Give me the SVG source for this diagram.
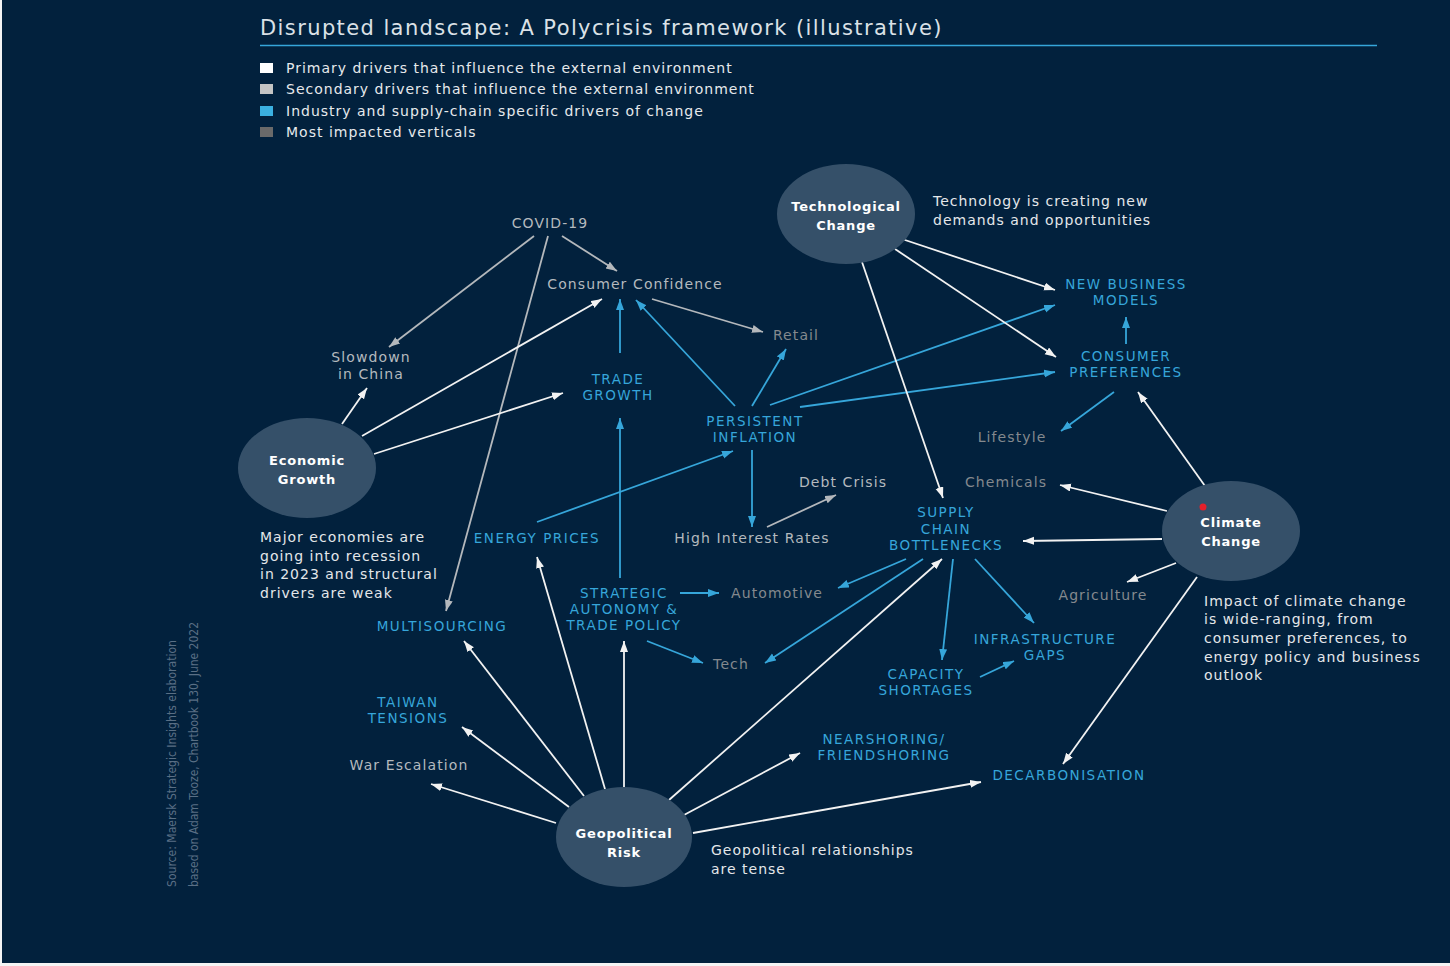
<svg xmlns="http://www.w3.org/2000/svg" width="1450" height="966" viewBox="0 0 1450 966">
<defs>
<style>
.t{font-family:"DejaVu Sans","Open Sans",sans-serif;}
.title{font-size:21px;letter-spacing:1.4px;fill:#dbe1e7;}
.leg{font-size:14px;letter-spacing:1px;fill:#e6e9ec;}
.node{font-size:13px;letter-spacing:0.8px;font-weight:bold;fill:#ffffff;text-anchor:middle;}
.blue{font-size:13.5px;letter-spacing:1.5px;fill:#36a6da;text-anchor:middle;}
.sec{font-size:14px;letter-spacing:1.1px;fill:#b4b9be;text-anchor:middle;}
.vert{font-size:14px;letter-spacing:1.1px;fill:#84898e;text-anchor:middle;}
.ann{font-size:14px;letter-spacing:1px;fill:#e4e7ea;}
.src{font-family:"Liberation Sans Narrow","DejaVu Sans Condensed",sans-serif;font-size:13px;fill:#5a6f85;}
.cw{stroke:#f2f2f2;stroke-width:1.8;fill:none;marker-end:url(#aw);}
.cg{stroke:#b4b8bc;stroke-width:1.8;fill:none;marker-end:url(#ag);}
.cb{stroke:#36a6da;stroke-width:1.8;fill:none;marker-end:url(#ab);}
.circ{fill:#355069;}
</style>
<marker id="aw" markerUnits="userSpaceOnUse" markerWidth="12" markerHeight="9" refX="11" refY="4" orient="auto"><path d="M0,0 L11,4 L0,8 z" fill="#f2f2f2"/></marker>
<marker id="ag" markerUnits="userSpaceOnUse" markerWidth="12" markerHeight="9" refX="11" refY="4" orient="auto"><path d="M0,0 L11,4 L0,8 z" fill="#b4b8bc"/></marker>
<marker id="ab" markerUnits="userSpaceOnUse" markerWidth="12" markerHeight="9" refX="11" refY="4" orient="auto"><path d="M0,0 L11,4 L0,8 z" fill="#36a6da"/></marker>
</defs>
<rect x="0" y="0" width="1450" height="966" fill="#f4f4f4"/>
<rect x="2" y="0" width="1448" height="963" fill="#02213d"/>

<g id="header">
<text class="t title" x="260" y="35">Disrupted landscape: A Polycrisis framework (illustrative)</text>
<line x1="260" y1="45.5" x2="1377" y2="45.5" stroke="#36a6da" stroke-width="1.5"/>
</g>
<g id="legend">
<rect x="260" y="63" width="13" height="10" fill="#ffffff"/>
<text class="t leg" x="286" y="73">Primary drivers that influence the external environment</text>
<rect x="260" y="84" width="13" height="10" fill="#c4c4c4"/>
<text class="t leg" x="286" y="94">Secondary drivers that influence the external environment</text>
<rect x="260" y="106" width="13" height="10" fill="#3bb0e0"/>
<text class="t leg" x="286" y="116">Industry and supply-chain specific drivers of change</text>
<rect x="260" y="127" width="13" height="10" fill="#6a6a6a"/>
<text class="t leg" x="286" y="137">Most impacted verticals</text>
</g>

<g id="connectors">
<!-- COVID -->
<line class="cg" x1="534" y1="236" x2="389" y2="347"/>
<line class="cg" x1="562" y1="236" x2="617" y2="271"/>
<line class="cg" x1="548" y1="236" x2="446" y2="611"/>
<!-- Economic growth -->
<line class="cw" x1="342" y1="424" x2="367" y2="388"/>
<line class="cw" x1="362" y1="436" x2="602" y2="299"/>
<line class="cw" x1="374" y1="454" x2="563" y2="393"/>
<!-- Trade growth / strategic -->
<line class="cb" x1="620" y1="353" x2="620" y2="299"/>
<line class="cb" x1="620" y1="578" x2="620" y2="418"/>
<!-- Persistent inflation -->
<line class="cb" x1="735" y1="406" x2="636" y2="300"/>
<line class="cg" x1="652" y1="299" x2="763" y2="332"/>
<line class="cb" x1="752" y1="406" x2="786" y2="349"/>
<line class="cb" x1="770" y1="405" x2="1055" y2="305"/>
<line class="cb" x1="800" y1="407" x2="1055" y2="372"/>
<line class="cb" x1="537" y1="522" x2="733" y2="451"/>
<line class="cb" x1="752" y1="450" x2="752" y2="527"/>
<line class="cg" x1="767" y1="527" x2="836" y2="495"/>
<!-- Technological change -->
<line class="cw" x1="893" y1="236" x2="1055" y2="290"/>
<line class="cw" x1="895" y1="249" x2="1056" y2="357"/>
<line class="cw" x1="862" y1="262" x2="943" y2="498"/>
<!-- Consumer preferences -->
<line class="cb" x1="1126" y1="344" x2="1126" y2="317"/>
<line class="cb" x1="1114" y1="392" x2="1061" y2="431"/>
<!-- Climate change -->
<line class="cw" x1="1205" y1="486" x2="1138" y2="392"/>
<line class="cw" x1="1167" y1="511" x2="1060" y2="485"/>
<line class="cw" x1="1162" y1="539" x2="1023" y2="541"/>
<line class="cw" x1="1176" y1="563" x2="1127" y2="582"/>
<line class="cw" x1="1197" y1="577" x2="1063" y2="764"/>
<!-- Strategic / supply chain -->
<line class="cb" x1="680" y1="593" x2="719" y2="593"/>
<line class="cb" x1="647" y1="641" x2="703" y2="663"/>
<line class="cb" x1="906" y1="559" x2="838" y2="588"/>
<line class="cb" x1="923" y1="559" x2="765" y2="663"/>
<line class="cb" x1="953" y1="559" x2="942" y2="660"/>
<line class="cb" x1="975" y1="559" x2="1034" y2="623"/>
<line class="cb" x1="980" y1="677" x2="1014" y2="661"/>
<!-- Geopolitical risk -->
<line class="cw" x1="556" y1="823" x2="431" y2="784"/>
<line class="cw" x1="569" y1="807" x2="462" y2="727"/>
<line class="cw" x1="584" y1="796" x2="464" y2="641"/>
<line class="cw" x1="605" y1="789" x2="537" y2="557"/>
<line class="cw" x1="624" y1="787" x2="624" y2="641"/>
<line class="cw" x1="669" y1="800" x2="942" y2="559"/>
<line class="cw" x1="684" y1="815" x2="800" y2="753"/>
<line class="cw" x1="693" y1="833" x2="981" y2="782"/>
</g>

<g id="tech-change">
<ellipse class="circ" cx="846" cy="214" rx="69" ry="50"/>
<text class="t node" x="846" y="211">Technological</text>
<text class="t node" x="846" y="230">Change</text>
<text class="t ann" x="933" y="206">Technology is creating new</text>
<text class="t ann" x="933" y="225">demands and opportunities</text>
</g>
<g id="economic-growth">
<ellipse class="circ" cx="307" cy="468" rx="69" ry="50"/>
<text class="t node" x="307" y="465">Economic</text>
<text class="t node" x="307" y="484">Growth</text>
<text class="t ann" x="260" y="542">Major economies are</text>
<text class="t ann" x="260" y="561">going into recession</text>
<text class="t ann" x="260" y="579">in 2023 and structural</text>
<text class="t ann" x="260" y="598">drivers are weak</text>
</g>
<g id="climate-change">
<ellipse class="circ" cx="1231" cy="531" rx="69" ry="50"/>
<circle cx="1203" cy="507" r="3.5" fill="#e5202a"/>
<text class="t node" x="1231" y="527">Climate</text>
<text class="t node" x="1231" y="546">Change</text>
<text class="t ann" x="1204" y="606">Impact of climate change</text>
<text class="t ann" x="1204" y="624">is wide-ranging, from</text>
<text class="t ann" x="1204" y="643">consumer preferences, to</text>
<text class="t ann" x="1204" y="662">energy policy and business</text>
<text class="t ann" x="1204" y="680">outlook</text>
</g>
<g id="geopolitical-risk">
<ellipse class="circ" cx="624" cy="837" rx="68" ry="50"/>
<text class="t node" x="624" y="838">Geopolitical</text>
<text class="t node" x="624" y="857">Risk</text>
<text class="t ann" x="711" y="855">Geopolitical relationships</text>
<text class="t ann" x="711" y="874">are tense</text>
</g>

<g id="covid"><text class="t sec" x="550" y="228">COVID-19</text></g>
<g id="consumer-confidence"><text class="t sec" x="635" y="289">Consumer Confidence</text></g>
<g id="retail"><text class="t vert" x="796" y="340">Retail</text></g>
<g id="slowdown-china"><text class="t sec" x="371" y="362">Slowdown</text><text class="t sec" x="371" y="379">in China</text></g>
<g id="trade-growth"><text class="t blue" x="618" y="384">TRADE</text><text class="t blue" x="618" y="400">GROWTH</text></g>
<g id="persistent-inflation"><text class="t blue" x="755" y="426">PERSISTENT</text><text class="t blue" x="755" y="442">INFLATION</text></g>
<g id="new-business-models"><text class="t blue" x="1126" y="289">NEW BUSINESS</text><text class="t blue" x="1126" y="305">MODELS</text></g>
<g id="consumer-preferences"><text class="t blue" x="1126" y="361">CONSUMER</text><text class="t blue" x="1126" y="377">PREFERENCES</text></g>
<g id="lifestyle"><text class="t vert" x="1012" y="442">Lifestyle</text></g>
<g id="chemicals"><text class="t vert" x="1006" y="487">Chemicals</text></g>
<g id="debt-crisis"><text class="t sec" x="843" y="487">Debt Crisis</text></g>
<g id="supply-chain"><text class="t blue" x="946" y="517">SUPPLY</text><text class="t blue" x="946" y="534">CHAIN</text><text class="t blue" x="946" y="550">BOTTLENECKS</text></g>
<g id="energy-prices"><text class="t blue" x="537" y="543">ENERGY PRICES</text></g>
<g id="high-interest-rates"><text class="t sec" x="752" y="543">High Interest Rates</text></g>
<g id="strategic-autonomy"><text class="t blue" x="624" y="598">STRATEGIC</text><text class="t blue" x="624" y="614">AUTONOMY &amp;</text><text class="t blue" x="624" y="630">TRADE POLICY</text></g>
<g id="automotive"><text class="t vert" x="777" y="598">Automotive</text></g>
<g id="agriculture"><text class="t vert" x="1103" y="600">Agriculture</text></g>
<g id="multisourcing"><text class="t blue" x="442" y="631">MULTISOURCING</text></g>
<g id="tech"><text class="t vert" x="731" y="669">Tech</text></g>
<g id="infrastructure-gaps"><text class="t blue" x="1045" y="644">INFRASTRUCTURE</text><text class="t blue" x="1045" y="660">GAPS</text></g>
<g id="capacity-shortages"><text class="t blue" x="926" y="679">CAPACITY</text><text class="t blue" x="926" y="695">SHORTAGES</text></g>
<g id="taiwan-tensions"><text class="t blue" x="408" y="707">TAIWAN</text><text class="t blue" x="408" y="723">TENSIONS</text></g>
<g id="nearshoring"><text class="t blue" x="884" y="744">NEARSHORING/</text><text class="t blue" x="884" y="760">FRIENDSHORING</text></g>
<g id="war-escalation"><text class="t sec" x="409" y="770">War Escalation</text></g>
<g id="decarbonisation"><text class="t blue" x="1069" y="780">DECARBONISATION</text></g>

<g id="source">
<text class="src" transform="translate(176,887) rotate(-90)" textLength="247" lengthAdjust="spacingAndGlyphs">Source: Maersk Strategic Insights elaboration</text>
<text class="src" transform="translate(198,887) rotate(-90)" textLength="265" lengthAdjust="spacingAndGlyphs">based on Adam Tooze, Chartbook 130, June 2022</text>
</g>
</svg>
